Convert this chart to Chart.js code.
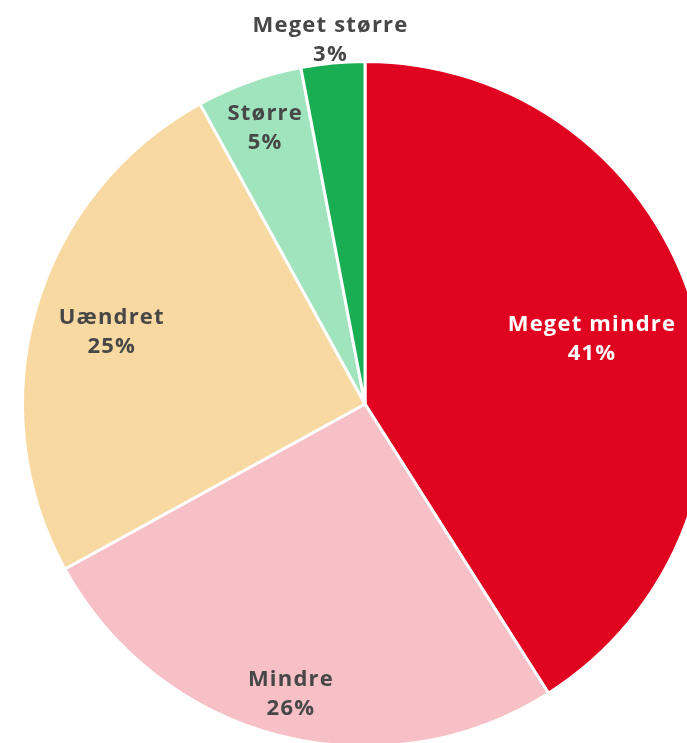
<!DOCTYPE html>
<html lang="da">
<head>
<meta charset="UTF-8">
<title>Fordeling</title>
<script src="https://cdn.jsdelivr.net/npm/chart.js"></script>
<style>
  html, body { margin: 0; padding: 0; background: #fff; overflow: hidden; width: 687px; height: 743px; }
  #wrap { position: absolute; left: 0; top: 0; width: 730px; height: 770px; }
</style>
</head>
<body>
<div id="wrap"><canvas id="pieChart"></canvas></div>
<script>
  // data
  const categories = ['Meget mindre', 'Mindre', 'Uændret', 'Større', 'Meget større'];
  const shares = [41, 26, 25, 5, 3];
  const sliceColors = ['#E00420', '#F6C0C6', '#F9D9A2', '#9FE4BC', '#19AE51'];

  // label placement (fraction of radius) and text colour per slice
  const labelRadius = [0.69, 0.87, 0.77, 0.86, 1.07];
  const labelColors = ['#ffffff', '#474747', '#474747', '#474747', '#474747'];

  const sliceLabels = {
    id: 'sliceLabels',
    afterDatasetsDraw(chart) {
      const ctx = chart.ctx;
      const meta = chart.getDatasetMeta(0);
      ctx.save();
      ctx.font = '700 22px "Open Sans", sans-serif';
      ctx.letterSpacing = '1.2px';
      ctx.textAlign = 'center';
      ctx.textBaseline = 'middle';
      meta.data.forEach((arc, i) => {
        const p = arc.getProps(['x', 'y', 'startAngle', 'endAngle', 'outerRadius']);
        const mid = (p.startAngle + p.endAngle) / 2;
        const r = p.outerRadius * labelRadius[i];
        const x = p.x + Math.cos(mid) * r;
        const y = p.y + Math.sin(mid) * r;
        ctx.fillStyle = labelColors[i];
        ctx.fillText(categories[i], x, y - 13);
        ctx.fillText(shares[i] + '%', x, y + 16);
      });
      ctx.restore();
    }
  };

  new Chart(document.getElementById('pieChart'), {
    type: 'pie',
    data: {
      labels: categories,
      datasets: [{
        data: shares,
        backgroundColor: sliceColors,
        borderColor: '#ffffff',
        borderWidth: 3
      }]
    },
    options: {
      responsive: true,
      maintainAspectRatio: false,
      animation: false,
      layout: { padding: { left: 21, top: 60, right: 21, bottom: 22 } },
      plugins: {
        legend: { display: false },
        tooltip: { enabled: false }
      }
    },
    plugins: [sliceLabels]
  });
</script>
</body>
</html>
